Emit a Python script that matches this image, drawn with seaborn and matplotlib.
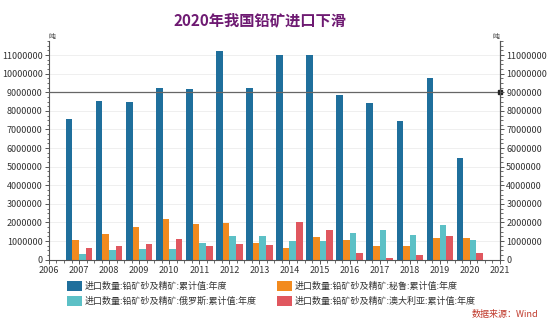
import numpy as np
import pandas as pd
import matplotlib
matplotlib.use("Agg")
import matplotlib.pyplot as plt
from matplotlib.patches import Patch
from matplotlib.ticker import MultipleLocator, AutoMinorLocator, FuncFormatter
import matplotlib.transforms as mtransforms
import seaborn as sns

# Annual lead ore & concentrate imports (tonnes)
years = [2007, 2008, 2009, 2010, 2011, 2012, 2013, 2014, 2015, 2016, 2017, 2018, 2019, 2020]
total = [7550000, 8550000, 8450000, 9250000, 9150000, 11200000, 9250000,
         11000000, 11000000, 8850000, 8400000, 7450000, 9750000, 5450000]
peru = [1080000, 1400000, 1780000, 2180000, 1900000, 1970000, 900000,
        640000, 1200000, 1070000, 740000, 740000, 1150000, 1150000]
russia = [310000, 500000, 600000, 580000, 900000, 1300000, 1280000,
          1030000, 1030000, 1450000, 1600000, 1330000, 1840000, 1070000]
australia = [650000, 740000, 850000, 1120000, 710000, 870000, 780000,
             2020000, 1600000, 380000, 110000, 250000, 1270000, 360000]

series_names = [
    "进口数量:铅矿砂及精矿:累计值:年度",
    "进口数量:铅矿砂及精矿:秘鲁:累计值:年度",
    "进口数量:铅矿砂及精矿:俄罗斯:累计值:年度",
    "进口数量:铅矿砂及精矿:澳大利亚:累计值:年度",
]
colors = ["#1f6f9c", "#f28a1e", "#5cc0c6", "#e0575f"]
ref_level = 9000000

frames = []
for name, vals in zip(series_names, [total, peru, russia, australia]):
    frames.append(pd.DataFrame({"year": years, "value": vals, "series": name}))
df = pd.concat(frames, ignore_index=True)

sns.set_style("white")
plt.rcParams["font.family"] = ["Noto Sans CJK SC", "DejaVu Sans"]

fig = plt.figure(figsize=(5.5, 3.21), dpi=100)
ax = fig.add_axes([0.089, 0.191, 0.820, 0.681])

sns.barplot(data=df, x="year", y="value", hue="series", hue_order=series_names,
            palette=colors, native_scale=True, width=0.88, saturation=1,
            legend=False, ax=ax, linewidth=0)

axis_col = "#555555"
ax.set_xlim(2006, 2021)
ax.set_ylim(0, 11750000)
ax.xaxis.set_major_locator(MultipleLocator(1))
ax.xaxis.set_minor_locator(AutoMinorLocator(4))
ax.xaxis.set_major_formatter(FuncFormatter(lambda v, p: f"{int(round(v))}"))
ax.yaxis.set_major_locator(MultipleLocator(1000000))
ax.yaxis.set_minor_locator(AutoMinorLocator(4))
ax.yaxis.set_major_formatter(FuncFormatter(lambda v, p: f"{int(v)}"))
ax.set_xlabel("")
ax.set_ylabel("")
ax.grid(axis="y", which="major", color="#ececec", linewidth=0.6)
ax.set_axisbelow(True)

ax.spines["top"].set_visible(False)
for s in ["left", "bottom", "right"]:
    ax.spines[s].set_color(axis_col)
    ax.spines[s].set_linewidth(0.8)

ax.tick_params(axis="both", which="major", direction="out", length=3, width=0.7,
               color=axis_col, labelsize=6.5, labelcolor="#333333", pad=1.5)
ax.tick_params(axis="both", which="minor", direction="out", length=1.8, width=0.6,
               color=axis_col)
ax.tick_params(axis="y", which="both", left=True)
ax.tick_params(axis="x", which="both", bottom=True)

# Mirrored value axis on the right
ax2 = ax.twinx()
ax2.set_ylim(ax.get_ylim())
ax2.yaxis.set_major_locator(MultipleLocator(1000000))
ax2.yaxis.set_minor_locator(AutoMinorLocator(4))
ax2.yaxis.set_major_formatter(FuncFormatter(lambda v, p: f"{int(v)}"))
for s in ["top", "left", "bottom"]:
    ax2.spines[s].set_visible(False)
ax2.spines["right"].set_color(axis_col)
ax2.spines["right"].set_linewidth(0.8)
ax2.tick_params(axis="y", which="major", direction="out", length=3, width=0.7,
                color=axis_col, labelsize=6.5, labelcolor="#333333", pad=1.5)
ax2.tick_params(axis="y", which="minor", direction="out", length=1.8, width=0.6,
                color=axis_col)

# Reference line at 9,000,000 t
ax.axhline(ref_level, color="#666666", linewidth=0.9, zorder=5)
trans = mtransforms.blended_transform_factory(ax.transAxes, ax.transData)
ax.plot([1.0], [ref_level], marker="s", markersize=2.5, color="#222222",
        transform=trans, clip_on=False, zorder=6)

# Unit labels
ax.text(0.0, 1.0, "吨", transform=ax.transAxes, fontsize=5, color="#333333",
        ha="left", va="bottom")
ax.text(1.0, 1.0, "吨", transform=ax.transAxes, fontsize=5, color="#333333",
        ha="right", va="bottom")

fig.text(0.473, 0.938, "2020年我国铅矿进口下滑", ha="center", va="center",
         fontsize=11, fontweight="bold", color="#6e1a72")

order = [0, 2, 1, 3]
handles = [Patch(facecolor=colors[i], edgecolor="none") for i in order]
labels = [series_names[i] for i in order]
fig.legend(handles, labels, ncol=2, loc="upper left",
           bbox_to_anchor=(0.113, 0.138), frameon=False, fontsize=6.5,
           handlelength=1.75, handleheight=1.25, handletextpad=0.25,
           columnspacing=2.2, labelspacing=0.55, borderpad=0,
           labelcolor="#333333")

fig.text(0.978, 0.02, "数据来源：Wind", ha="right", va="center",
         fontsize=6.5, color="#c0392b", style="italic")

fig.savefig("out.png", dpi=100)
